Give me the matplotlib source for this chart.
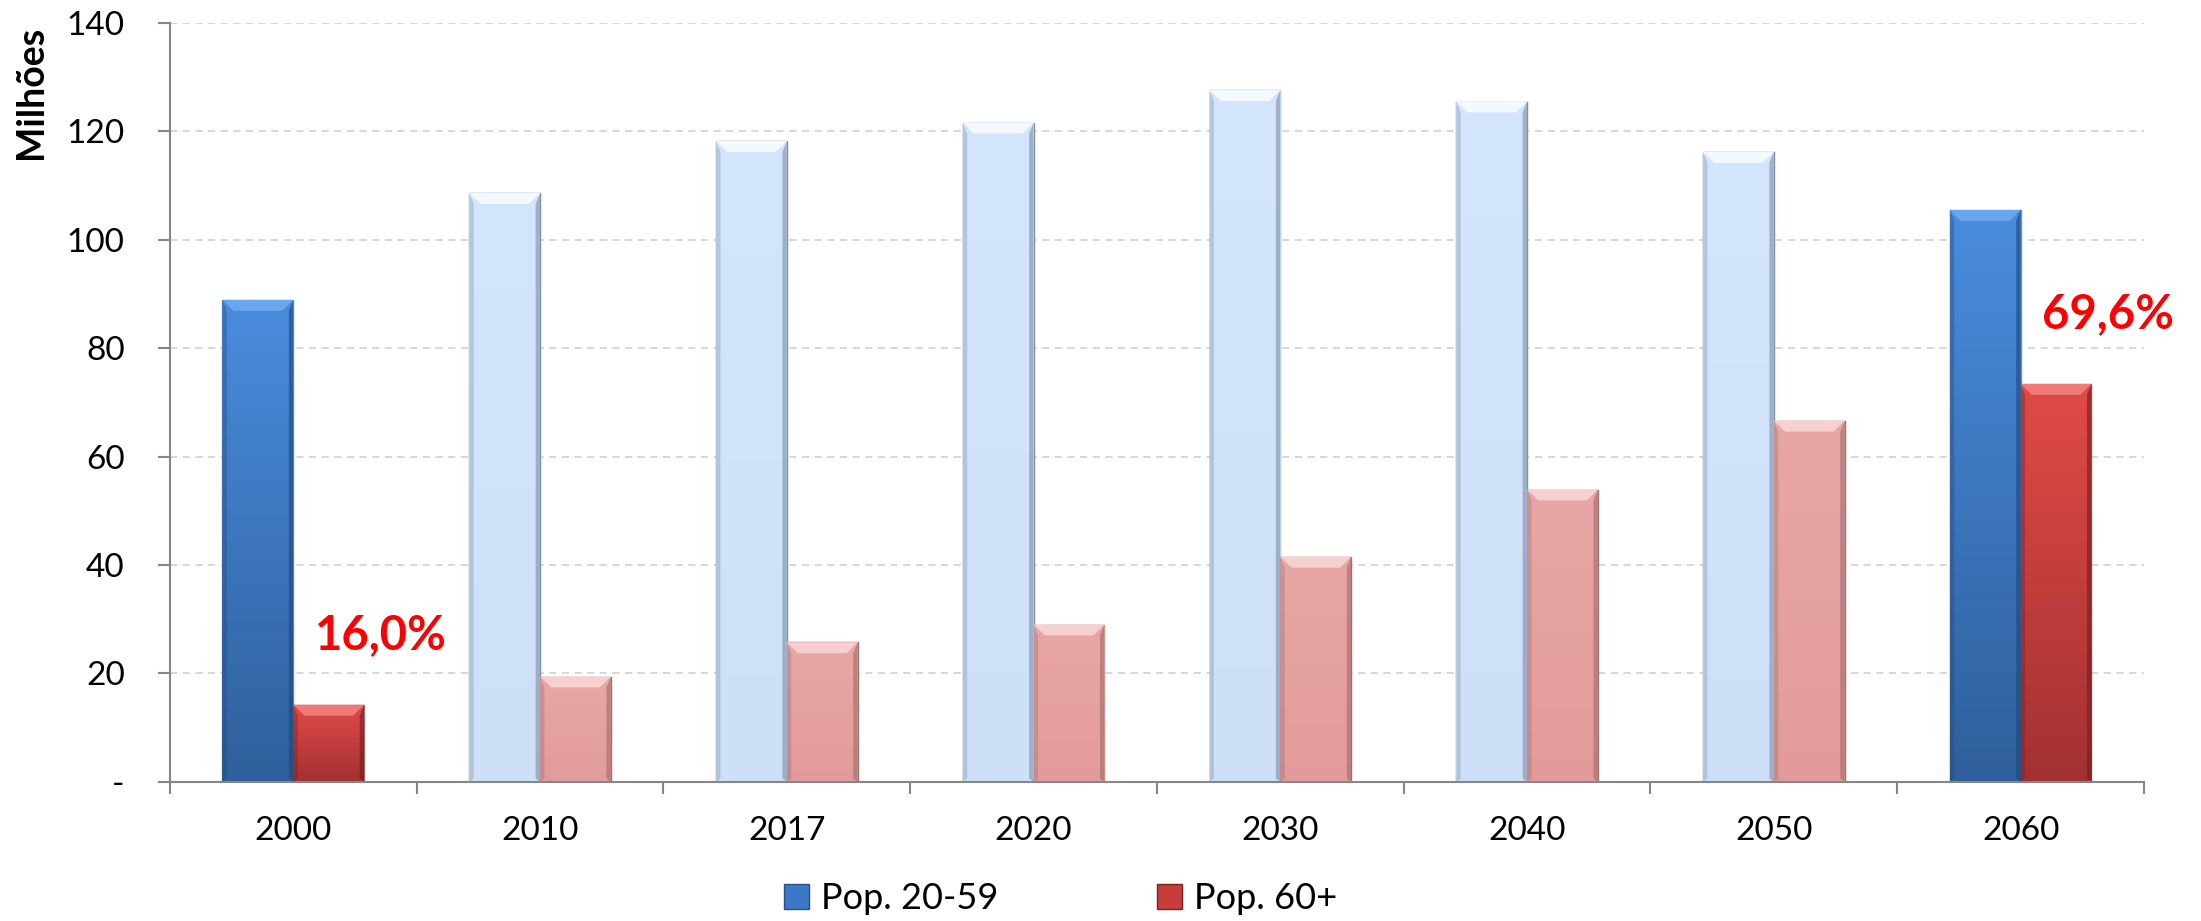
import numpy as np
import matplotlib.pyplot as plt
from matplotlib.patches import Polygon, Patch
from matplotlib.colors import LinearSegmentedColormap
from matplotlib.ticker import FuncFormatter

# População por faixa etária (milhões)
anos = ['2000', '2010', '2017', '2020', '2030', '2040', '2050', '2060']
pop_20_59 = [88.9, 108.6, 118.2, 121.6, 127.6, 125.5, 116.2, 105.5]
pop_60_mais = [14.2, 19.4, 25.7, 29.0, 41.5, 53.9, 66.6, 73.4]
anos_destaque = ['2000', '2060']
serie_nomes = ['Pop. 20-59', 'Pop. 60+']

plt.rcParams['font.family'] = ['Lato', 'DejaVu Sans']

fig = plt.figure(figsize=(22.01, 9.21), dpi=100)
ax = fig.add_axes([0.0772, 0.1512, 0.8969, 0.8238])

x = np.arange(len(anos))
w = 0.287


def relevo(barra, cor_topo, cor_base, cor_bisel, cor_lado):
    # preenchimento em degradê + bisel no topo e nas laterais
    x0, y0 = barra.get_x(), barra.get_y()
    bw, bh = barra.get_width(), barra.get_height()
    cmap = LinearSegmentedColormap.from_list('grad', [cor_base, cor_topo])
    grad = np.linspace(0, 1, 256).reshape(-1, 1)
    im = ax.imshow(grad, cmap=cmap, origin='lower', aspect='auto',
                   extent=[x0, x0 + bw, y0, y0 + bh], zorder=2)
    im.set_clip_path(barra)
    topo = y0 + bh
    dx, dy = 0.045, 2.0
    ax.add_patch(Polygon([[x0, topo], [x0 + bw, topo], [x0 + bw - dx, topo - dy],
                          [x0 + dx, topo - dy]], closed=True, fc=cor_bisel,
                         ec='none', zorder=3))
    lx = 0.018
    ax.add_patch(Polygon([[x0, y0], [x0 + lx, y0 + 0.6], [x0 + lx, topo - dy],
                          [x0, topo]], closed=True, fc=cor_lado, alpha=0.35,
                         ec='none', zorder=3))
    ax.add_patch(Polygon([[x0 + bw, y0], [x0 + bw - lx, y0 + 0.6],
                          [x0 + bw - lx, topo - dy], [x0 + bw, topo]],
                         closed=True, fc=cor_lado, alpha=0.6, ec='none', zorder=3))


barras_a = ax.bar(x - w / 2, pop_20_59, w, color='none', edgecolor='#7f8fa3',
                  linewidth=1.0, zorder=2)
barras_b = ax.bar(x + w / 2, pop_60_mais, w, color='none', edgecolor='#9a7070',
                  linewidth=1.0, zorder=2)

for ano, ba, bb in zip(anos, barras_a, barras_b):
    if ano in anos_destaque:
        relevo(ba, '#4a8ddd', '#2f5f9c', '#6aa6ee', '#1f4577')
        relevo(bb, '#e04a48', '#a33131', '#f07a78', '#6e1d1d')
    else:
        relevo(ba, '#d3e6fd', '#cde0f8', '#f4f9ff', '#7d8ea6')
        relevo(bb, '#e8a7a6', '#e29b9a', '#f6cfce', '#a06a6a')

# percentual da população 60+ em relação à população 20-59
for ano in anos_destaque:
    i = anos.index(ano)
    razao = 100 * pop_60_mais[i] / pop_20_59[i]
    rotulo = f'{razao:.1f}%'.replace('.', ',')
    ax.text(x[i] + w / 2 + 0.21, pop_60_mais[i] + 12.8, rotulo, color='#ff0000',
            fontsize=34, fontweight='bold', ha='center', va='center', zorder=5)

ax.set_xlim(-0.5, len(anos) - 0.5)
ax.set_ylim(0, 140)

ax.set_yticks(np.arange(0, 141, 20))
ax.yaxis.set_major_formatter(FuncFormatter(lambda v, p: '-' if v == 0 else f'{v:.0f}'))
ax.tick_params(axis='y', length=8.6, width=1.5, color='#868686', pad=24,
               labelsize=24)

ax.set_xticks(np.arange(-0.5, len(anos), 1))
ax.set_xticklabels([])
ax.set_xticks(x, minor=True)
ax.set_xticklabels(anos, minor=True)
ax.tick_params(axis='x', which='major', length=8.6, width=1.5, color='#868686')
ax.tick_params(axis='x', which='minor', length=0, pad=25, labelsize=24)

ax.yaxis.grid(True, linestyle=(0, (4, 3)), color='#d4d4d4', linewidth=1.3)
ax.set_axisbelow(True)
for lado in ['top', 'right']:
    ax.spines[lado].set_visible(False)
for lado in ['left', 'bottom']:
    ax.spines[lado].set_color('#868686')
    ax.spines[lado].set_linewidth(1.5)

fig.text(0.0141, 0.900, 'Milhões', rotation=90, fontsize=27, fontweight='bold',
         ha='center', va='center')

handles = [Patch(facecolor='#3b78c6', edgecolor='#2a5288'),
           Patch(facecolor='#c83c3b', edgecolor='#7a2222')]
fig.legend(handles, serie_nomes, loc='center', bbox_to_anchor=(0.482, 0.024),
           ncol=2, frameon=False, fontsize=26, handlelength=0.69,
           handleheight=0.69, handletextpad=0.33, columnspacing=4.4,
           borderpad=0)

fig.savefig('out.png', dpi=100)
